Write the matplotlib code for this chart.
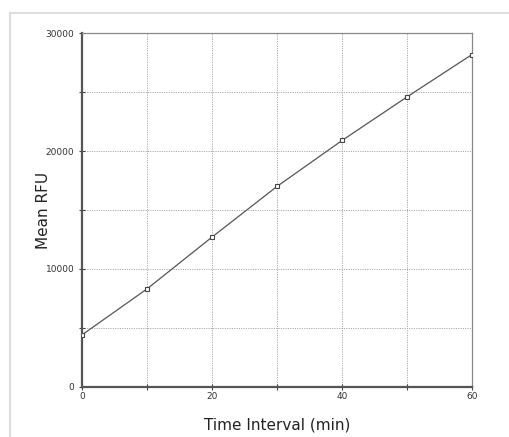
import matplotlib.pyplot as plt
from matplotlib.lines import Line2D

# data
time_min = [0, 10, 20, 30, 40, 50, 60]
mean_rfu = [4400, 8300, 12700, 17000, 20900, 24600, 28200]

fig = plt.figure(figsize=(5.1, 4.37), dpi=100)

# light grey frame on left/top of the figure
fig.add_artist(Line2D([10/510, 10/510], [0, 1 - 13/437], color="#dddddd", lw=1.5))
fig.add_artist(Line2D([10/510, 1], [1 - 13/437, 1 - 13/437], color="#dddddd", lw=1.5))

ax = fig.add_axes([0.1608, 0.1151, 0.7647, 0.8087])

ax.plot(time_min, mean_rfu, color="#555555", lw=0.9, marker="s", markersize=3.5,
        markerfacecolor="white", markeredgecolor="#444444", markeredgewidth=0.8, zorder=3)

ax.set_xlim(0, 60)
ax.set_ylim(0, 30000)
ax.set_xticks([0, 20, 40, 60])
ax.set_xticks([10, 30, 50], minor=True)
ax.set_yticks([0, 10000, 20000, 30000])
ax.set_yticks([5000, 15000, 25000], minor=True)

ax.grid(True, which="both", color="#aaaaaa", lw=0.7, linestyle=(0, (1.2, 1.2)))
ax.set_axisbelow(True)

ax.tick_params(which="both", direction="inout", length=4, width=0.8, colors="#444444",
               labelsize=6.5, labelcolor="#333333")
ax.tick_params(axis="x", pad=2)

for s in ["left", "bottom"]:
    ax.spines[s].set_color("#555555")
    ax.spines[s].set_linewidth(1.6)
for s in ["top", "right"]:
    ax.spines[s].set_color("#888888")
    ax.spines[s].set_linewidth(0.9)

ax.set_xlabel("Time Interval (min)", fontsize=11, color="#222222", labelpad=12)
ax.set_ylabel("Mean RFU", fontsize=11, color="#222222", labelpad=-4)

plt.savefig("out.png", dpi=100)
